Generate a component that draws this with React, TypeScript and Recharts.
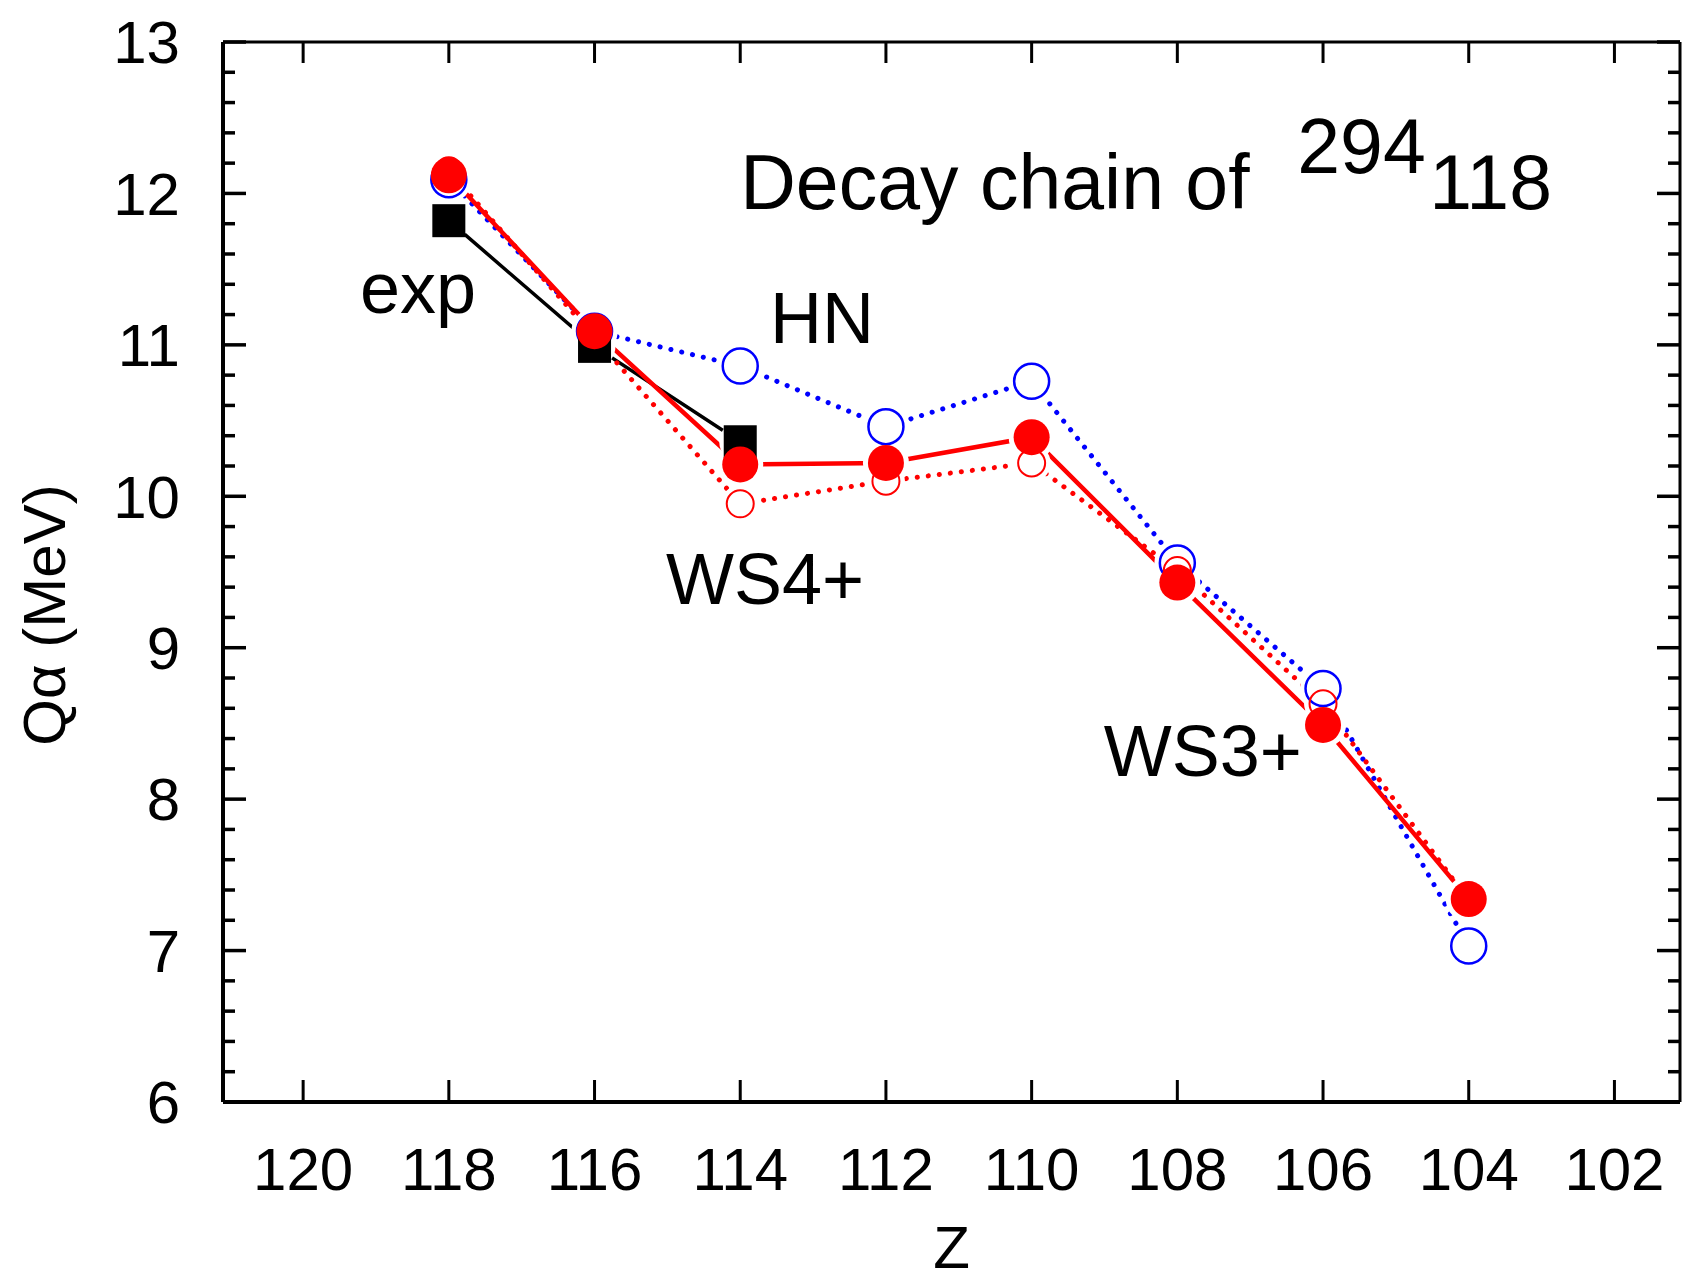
import React from 'react';
import { ComposedChart, Line, XAxis, YAxis, ReferenceDot } from 'recharts';

const FONT = '"Liberation Sans", Arial, Helvetica, sans-serif';

// Z along the decay chain of 294-118
const zValues = [118, 116, 114, 112, 110, 108, 106, 104];
// Q-alpha in MeV
const expValues = [11.82, 10.99, 10.36, null, null, null, null, null];
const hnValues = [12.09, 11.09, 10.86, 10.46, 10.76, 9.56, 8.73, 7.03];
const ws4Values = [12.12, 11.09, 10.21, 10.22, 10.39, 9.43, 8.49, 7.34];
const ws3Values = [12.15, 11.05, 9.95, 10.1, 10.22, 9.51, 8.63, 7.33];

const xTicks = [120, 118, 116, 114, 112, 110, 108, 106, 104, 102];
const yTicks = [6, 7, 8, 9, 10, 11, 12, 13];
const yMinorTicks = [
  6.2, 6.4, 6.6, 6.8, 7.2, 7.4, 7.6, 7.8, 8.2, 8.4, 8.6, 8.8, 9.2, 9.4, 9.6, 9.8,
  10.2, 10.4, 10.6, 10.8, 11.2, 11.4, 11.6, 11.8, 12.2, 12.4, 12.6, 12.8,
];

// curve labels, placed in data units (left edge / baseline)
const annotations = [
  { text: 'exp', z: 119.22, q: 11.21 },
  { text: 'HN', z: 113.59, q: 11.01 },
  { text: 'WS4+', z: 115.02, q: 9.29 },
  { text: 'WS3+', z: 109.01, q: 8.15 },
];

const data = zValues.map((z, i) => ({
  z,
  exp: expValues[i],
  hn: hnValues[i],
  ws4: ws4Values[i],
  ws3: ws3Values[i],
}));

const missing = (p: any) => p.cx == null || p.cy == null || p.value == null || isNaN(p.cy);

// white disc behind each marker so the lines stop short of it (Origin look)
const halo = (r: number) => (p: any) =>
  missing(p) ? <g key={`h${p.index}`} /> : <circle key={`h${p.index}`} cx={p.cx} cy={p.cy} r={r} fill="#fff" />;

const openCircle = (r: number, color: string, w: number) => (p: any) =>
  missing(p) ? <g key={`o${p.index}`} /> : (
    <circle key={`o${p.index}`} cx={p.cx} cy={p.cy} r={r} fill="none" stroke={color} strokeWidth={w} />
  );

const filledCircle = (r: number, color: string) => (p: any) =>
  missing(p) ? <g key={`f${p.index}`} /> : <circle key={`f${p.index}`} cx={p.cx} cy={p.cy} r={r} fill={color} />;

const square = (s: number) => (p: any) =>
  missing(p) ? <g key={`s${p.index}`} /> : (
    <rect key={`s${p.index}`} x={p.cx - s / 2} y={p.cy - s / 2} width={s} height={s} fill="#000" />
  );

const TitleLabel = (props: any) => {
  const { x, y } = props.viewBox;
  return (
    <text x={x} y={y} fontSize={77} fontFamily={FONT} fill="#000">
      <tspan>Decay chain of</tspan>
      <tspan x={x + 557} dy={-36}>294</tspan>
      <tspan x={x + 689} dy={36}>118</tspan>
    </text>
  );
};

const textLabel = (text: string) => (props: any) => {
  const { x, y } = props.viewBox;
  return (
    <text x={x} y={y} fontSize={72} fontFamily={FONT} fill="#000">
      {text}
    </text>
  );
};

const YTitle = (props: any) => {
  const vb = props.viewBox;
  const x = vb.x + vb.width - 158;
  const y = vb.y + vb.height / 2 + 43;
  return (
    <text x={x} y={y} transform={`rotate(-90 ${x} ${y})`} textAnchor="middle" fontSize={60} fontFamily={FONT} fill="#000">
      Qα (MeV)
    </text>
  );
};

const XTitle = (props: any) => {
  const vb = props.viewBox;
  return (
    <text x={vb.x + vb.width / 2} y={vb.y + 166} textAnchor="middle" fontSize={60} fontFamily={FONT} fill="#000">
      Z
    </text>
  );
};

const dotted = { strokeWidth: 5, strokeDasharray: '0.1 11', strokeLinecap: 'round' as const };
const noText = () => '';

export default function App() {
  return (
    <div style={{ position: 'absolute', left: 0, top: 0, width: 1684, height: 1282, background: '#fff' }}>
      <ComposedChart width={1684} height={1282} data={data} margin={{ top: 41, right: 2, bottom: 179, left: 221 }}>
        <XAxis
          xAxisId="b"
          type="number"
          dataKey="z"
          domain={[101.1, 121.1]}
          reversed
          allowDataOverflow
          ticks={xTicks}
          interval={0}
          height={1}
          tickSize={-22}
          tickMargin={67}
          axisLine={{ stroke: '#000', strokeWidth: 4 }}
          tickLine={{ stroke: '#000', strokeWidth: 3 }}
          tick={{ fontSize: 60, fill: '#000', fontFamily: FONT }}
          label={XTitle}
        />
        <XAxis
          xAxisId="t"
          orientation="top"
          type="number"
          dataKey="z"
          domain={[101.1, 121.1]}
          reversed
          allowDataOverflow
          ticks={xTicks}
          interval={0}
          height={1}
          tickSize={-21}
          tickFormatter={noText}
          axisLine={{ stroke: '#000', strokeWidth: 3 }}
          tickLine={{ stroke: '#000', strokeWidth: 3 }}
        />
        <YAxis
          yAxisId="l"
          type="number"
          domain={[6, 13]}
          allowDataOverflow
          ticks={yTicks}
          interval={0}
          width={1}
          tickSize={-23}
          tickMargin={66}
          axisLine={{ stroke: '#000', strokeWidth: 4 }}
          tickLine={{ stroke: '#000', strokeWidth: 3.5 }}
          tick={{ fontSize: 60, fill: '#000', fontFamily: FONT }}
          label={YTitle}
        />
        <YAxis
          yAxisId="lm"
          type="number"
          domain={[6, 13]}
          allowDataOverflow
          ticks={yMinorTicks}
          interval={0}
          width={1}
          tickSize={-13}
          tickFormatter={noText}
          axisLine={false}
          tickLine={{ stroke: '#000', strokeWidth: 3.5 }}
        />
        <YAxis
          yAxisId="r"
          orientation="right"
          type="number"
          domain={[6, 13]}
          allowDataOverflow
          ticks={yTicks}
          interval={0}
          width={1}
          tickSize={-23}
          tickFormatter={noText}
          axisLine={{ stroke: '#000', strokeWidth: 3 }}
          tickLine={{ stroke: '#000', strokeWidth: 3.5 }}
        />
        <YAxis
          yAxisId="rm"
          orientation="right"
          type="number"
          domain={[6, 13]}
          allowDataOverflow
          ticks={yMinorTicks}
          interval={0}
          width={1}
          tickSize={-13}
          tickFormatter={noText}
          axisLine={false}
          tickLine={{ stroke: '#000', strokeWidth: 3.5 }}
        />

        {/* connecting lines */}
        <Line xAxisId="b" yAxisId="l" dataKey="exp" stroke="#000" strokeWidth={3.5} dot={false} activeDot={false} isAnimationActive={false} />
        <Line xAxisId="b" yAxisId="l" dataKey="hn" stroke="#0000ff" {...dotted} dot={false} activeDot={false} isAnimationActive={false} />
        <Line xAxisId="b" yAxisId="l" dataKey="ws3" stroke="#ff0000" {...dotted} dot={false} activeDot={false} isAnimationActive={false} />
        <Line xAxisId="b" yAxisId="l" dataKey="ws4" stroke="#ff0000" strokeWidth={4.5} dot={false} activeDot={false} isAnimationActive={false} />

        {/* gaps around markers */}
        <Line xAxisId="b" yAxisId="l" dataKey="exp" stroke="none" dot={halo(21)} activeDot={false} isAnimationActive={false} />
        <Line xAxisId="b" yAxisId="l" dataKey="hn" stroke="none" dot={halo(23)} activeDot={false} isAnimationActive={false} />
        <Line xAxisId="b" yAxisId="l" dataKey="ws3" stroke="none" dot={halo(19)} activeDot={false} isAnimationActive={false} />
        <Line xAxisId="b" yAxisId="l" dataKey="ws4" stroke="none" dot={halo(23)} activeDot={false} isAnimationActive={false} />

        {/* markers */}
        <Line xAxisId="b" yAxisId="l" dataKey="hn" stroke="none" dot={openCircle(17.5, '#0000ff', 2.5)} activeDot={false} isAnimationActive={false} />
        <Line xAxisId="b" yAxisId="l" dataKey="ws3" stroke="none" dot={openCircle(13.5, '#ff0000', 2)} activeDot={false} isAnimationActive={false} />
        <Line xAxisId="b" yAxisId="l" dataKey="exp" stroke="none" dot={square(33)} activeDot={false} isAnimationActive={false} />
        <Line xAxisId="b" yAxisId="l" dataKey="ws4" stroke="none" dot={filledCircle(18, '#ff0000')} activeDot={false} isAnimationActive={false} />

        <ReferenceDot xAxisId="b" yAxisId="l" x={114.0} y={11.9} r={0} fill="none" stroke="none" label={TitleLabel} />
        {annotations.map((a) => (
          <ReferenceDot
            key={a.text}
            xAxisId="b"
            yAxisId="l"
            x={a.z}
            y={a.q}
            r={0}
            fill="none"
            stroke="none"
            label={textLabel(a.text)}
          />
        ))}
      </ComposedChart>
    </div>
  );
}
